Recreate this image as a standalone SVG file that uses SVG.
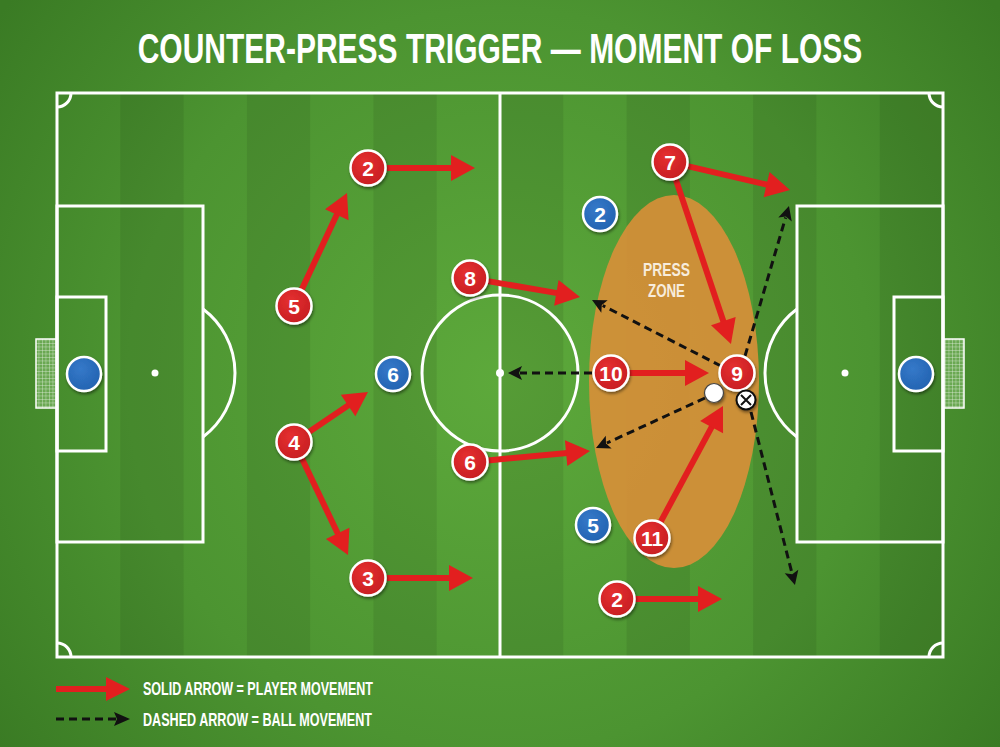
<svg xmlns="http://www.w3.org/2000/svg" width="1000" height="747" viewBox="0 0 1000 747">
<defs>
<radialGradient id="bg" cx="500" cy="380" r="620" gradientUnits="userSpaceOnUse">
<stop offset="0" stop-color="#5da93b"/>
<stop offset="0.6" stop-color="#4c9431"/>
<stop offset="1" stop-color="#3a7b24"/>
</radialGradient>
<radialGradient id="red" cx="0.4" cy="0.35" r="0.7">
<stop offset="0" stop-color="#e53030"/>
<stop offset="1" stop-color="#c61d22"/>
</radialGradient>
<radialGradient id="blue" cx="0.4" cy="0.35" r="0.7">
<stop offset="0" stop-color="#3579c9"/>
<stop offset="1" stop-color="#2262b0"/>
</radialGradient>
<pattern id="net" width="3.5" height="3.5" patternUnits="userSpaceOnUse">
<rect width="3.5" height="3.5" fill="#6aa852"/>
<path d="M0,0 H3.5 M0,0 V3.5" stroke="#ffffff" stroke-width="0.7" opacity="0.85"/>
</pattern>
<filter id="sh" x="-40%" y="-40%" width="180%" height="180%">
<feDropShadow dx="1" dy="2" stdDeviation="1.6" flood-color="#000" flood-opacity="0.45"/>
</filter>
<marker id="ah" markerUnits="userSpaceOnUse" markerWidth="26" markerHeight="28" refX="4" refY="13" orient="auto" overflow="visible">
<path d="M0,0 L24,13 L0,26 z" fill="#e21f1f"/>
</marker>
<marker id="dh" markerUnits="userSpaceOnUse" markerWidth="16" markerHeight="14" refX="2" refY="7" orient="auto" overflow="visible">
<path d="M0,0 L14,7 L0,14 L3,7 z" fill="#111"/>
</marker>
<style>
.line{fill:none;stroke:#ffffff;stroke-width:3}
.mv{fill:none;stroke:#e21f1f;stroke-width:6;marker-end:url(#ah)}
.ball{fill:none;stroke:#111;stroke-width:3;stroke-dasharray:8 5;marker-end:url(#dh)}
.pr{fill:url(#red);stroke:#fff;stroke-width:2.5;filter:url(#sh)}
.pb{fill:url(#blue);stroke:#fff;stroke-width:2.5;filter:url(#sh)}
.num{font-family:"Liberation Sans Narrow","Liberation Sans",Arial,sans-serif;font-weight:bold;font-size:21px;fill:#fff;text-anchor:middle}
.lbl{font-family:"Liberation Sans Narrow","Liberation Sans",Arial,sans-serif;font-weight:bold;fill:#fff}
.ttl{font-family:"Liberation Sans",Arial,sans-serif;font-weight:bold;fill:#fff}
</style>
</defs>

<rect width="1000" height="747" fill="url(#bg)"/>

<g id="stripes" fill="#000" opacity="0.07">
<rect x="120.3" y="93" width="63.3" height="564"/>
<rect x="246.9" y="93" width="63.3" height="564"/>
<rect x="373.4" y="93" width="63.3" height="564"/>
<rect x="500" y="93" width="63.3" height="564"/>
<rect x="626.6" y="93" width="63.3" height="564"/>
<rect x="753.1" y="93" width="63.3" height="564"/>
<rect x="879.7" y="93" width="63.3" height="564"/>
</g>

<text id="title" class="ttl" x="0" y="0" font-size="42" text-anchor="middle" transform="translate(500,63) scale(0.714,1)">COUNTER-PRESS TRIGGER — MOMENT OF LOSS</text>

<g id="pitch">
<rect x="36" y="339" width="21" height="69" fill="url(#net)" stroke="#fff" stroke-width="1.5"/>
<rect x="943" y="339" width="21" height="69" fill="url(#net)" stroke="#fff" stroke-width="1.5"/>
<rect class="line" x="57" y="93" width="886" height="564"/>
<line class="line" x1="500" y1="93" x2="500" y2="657"/>
<circle class="line" cx="500" cy="373" r="78"/>
<circle cx="500" cy="373" r="4" fill="#fff"/>
<rect class="line" x="57" y="206" width="146" height="336"/>
<rect class="line" x="57" y="297" width="49" height="154"/>
<circle cx="155" cy="373" r="3.5" fill="#fff"/>
<path class="line" d="M203,309 A80,80 0 0 1 203,437"/>
<rect class="line" x="797" y="206" width="146" height="336"/>
<rect class="line" x="894" y="297" width="49" height="154"/>
<circle cx="845" cy="373" r="3.5" fill="#fff"/>
<path class="line" d="M797,309 A80,80 0 0 0 797,437"/>
<path class="line" d="M71,93 A14,14 0 0 1 57,107"/>
<path class="line" d="M929,93 A14,14 0 0 0 943,107"/>
<path class="line" d="M57,643 A14,14 0 0 1 71,657"/>
<path class="line" d="M943,643 A14,14 0 0 0 929,657"/>
</g>

<ellipse id="press-zone" cx="674" cy="381.5" rx="85" ry="186.5" fill="#d98f38" opacity="0.9"/>
<g id="press-label" class="lbl">
<text x="666.5" y="276" font-size="19" text-anchor="middle" textLength="47" lengthAdjust="spacingAndGlyphs" fill="#f7ecdc">PRESS</text>
<text x="666.5" y="297" font-size="19" text-anchor="middle" textLength="37" lengthAdjust="spacingAndGlyphs" fill="#f7ecdc">ZONE</text>
</g>

<g id="connectors">
<line class="mv" x1="387" y1="168" x2="455" y2="168"/>
<line class="mv" x1="301.6" y1="289.7" x2="338.5" y2="211.1"/>
<line class="mv" x1="308.9" y1="431.9" x2="351.4" y2="403.2"/>
<line class="mv" x1="301.8" y1="458.2" x2="339.4" y2="537"/>
<line class="mv" x1="387" y1="578" x2="453" y2="578"/>
<line class="mv" x1="487.7" y1="281.1" x2="560.3" y2="293.6"/>
<line class="mv" x1="487.9" y1="460.4" x2="570.1" y2="452.8"/>
<line class="mv" x1="687.5" y1="166.1" x2="770.5" y2="185.5"/>
<line class="mv" x1="675.7" y1="179.1" x2="724.6" y2="325"/>
<line class="mv" x1="629" y1="373" x2="689" y2="373"/>
<line class="mv" x1="660.5" y1="522.1" x2="713.5" y2="423.6"/>
<line class="mv" x1="635" y1="599" x2="702" y2="599"/>
<line class="ball" x1="592" y1="373" x2="520" y2="373"/>
<line class="ball" x1="721" y1="366" x2="602.7" y2="305.5"/>
<line class="ball" x1="745" y1="356" x2="785.6" y2="217.5"/>
<line class="ball" x1="705" y1="398" x2="606.9" y2="443"/>
<line class="ball" x1="751" y1="412" x2="792" y2="573.4"/>
</g>

<g id="gk-left"><circle class="pb" cx="84" cy="374" r="17"/></g>
<g id="gk-right"><circle class="pb" cx="916" cy="374" r="17"/></g>
<g id="blue-2"><circle class="pb" cx="600" cy="214" r="17"/><text class="num" x="600" y="221.5">2</text></g>
<g id="blue-6"><circle class="pb" cx="393" cy="374" r="17"/><text class="num" x="393" y="381.5">6</text></g>
<g id="blue-5"><circle class="pb" cx="593" cy="525" r="17"/><text class="num" x="593" y="532.5">5</text></g>

<g id="red-2a"><circle class="pr" cx="368" cy="168" r="17.5"/><text class="num" x="368" y="175.5">2</text></g>
<g id="red-5"><circle class="pr" cx="294" cy="306" r="17.5"/><text class="num" x="294" y="313.5">5</text></g>
<g id="red-4"><circle class="pr" cx="294" cy="442" r="17.5"/><text class="num" x="294" y="449.5">4</text></g>
<g id="red-3"><circle class="pr" cx="368" cy="578" r="17.5"/><text class="num" x="368" y="585.5">3</text></g>
<g id="red-8"><circle class="pr" cx="470" cy="278" r="17.5"/><text class="num" x="470" y="285.5">8</text></g>
<g id="red-6"><circle class="pr" cx="470" cy="462" r="17.5"/><text class="num" x="470" y="469.5">6</text></g>
<g id="red-7"><circle class="pr" cx="670" cy="162" r="17.5"/><text class="num" x="670" y="169.5">7</text></g>
<g id="red-10"><circle class="pr" cx="611" cy="373" r="17.5"/><text class="num" x="611" y="380.5">10</text></g>
<g id="red-9"><circle class="pr" cx="737" cy="373" r="17.5"/><text class="num" x="737" y="380.5">9</text></g>
<g id="red-11"><circle class="pr" cx="652" cy="538" r="17.5"/><text class="num" x="652" y="545.5">11</text></g>
<g id="red-2b"><circle class="pr" cx="617" cy="599" r="17.5"/><text class="num" x="617" y="606.5">2</text></g>

<g id="ball"><circle cx="714" cy="393" r="9.5" fill="#fff" stroke="#444" stroke-width="1.2" filter="url(#sh)"/></g>
<g id="loss-marker">
<circle cx="746" cy="400" r="9.5" fill="#fff" stroke="#111" stroke-width="2" filter="url(#sh)"/>
<path d="M741,395 L751,405 M751,395 L741,405" stroke="#111" stroke-width="2"/>
</g>

<g id="legend">
<line x1="56" y1="689" x2="110" y2="689" stroke="#e21f1f" stroke-width="6"/>
<path d="M106,677 L130,689 L106,701 z" fill="#e21f1f"/>
<line x1="56" y1="719" x2="116" y2="719" stroke="#111" stroke-width="3" stroke-dasharray="8 5"/>
<path d="M114,712 L130,719 L114,726 L117,719 z" fill="#111"/>
<text class="lbl" x="143" y="695" font-size="18" textLength="230" lengthAdjust="spacingAndGlyphs">SOLID ARROW = PLAYER MOVEMENT</text>
<text class="lbl" x="143" y="726" font-size="18" textLength="229" lengthAdjust="spacingAndGlyphs">DASHED ARROW = BALL MOVEMENT</text>
</g>
</svg>
